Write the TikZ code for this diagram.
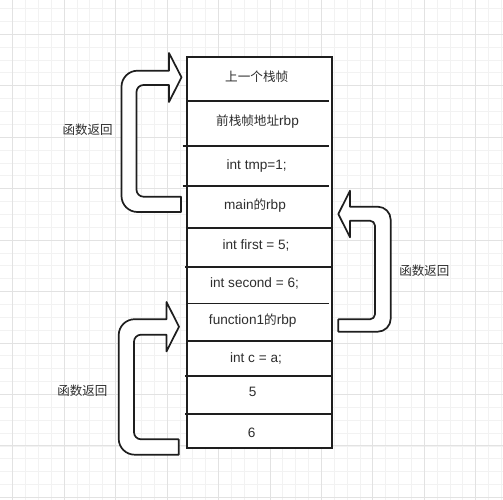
\documentclass[tikz,border=0pt]{standalone}
\usepackage{fontspec}
\setmainfont{Liberation Sans}
\newfontfamily\cjkfont{Noto Sans CJK SC}
\newcommand{\zh}[1]{{\cjkfont\fontsize{12.6}{15}\selectfont #1}}
\definecolor{minorgrid}{HTML}{F2F2F2}
\definecolor{majorgrid}{HTML}{E2E2E2}
\definecolor{txt}{HTML}{2E2E2E}
\definecolor{ink}{HTML}{1E1E1E}
\begin{document}
\begin{tikzpicture}[x=1pt,y=-1pt,
  minorline/.style={draw=minorgrid,line width=0.8pt},
  majorline/.style={draw=majorgrid,line width=0.9pt},
  stackbox/.style={draw=ink,fill=white,line width=1.7pt,inner sep=0pt,minimum width=145pt,minimum height=391.3pt},
  sepline/.style={draw=ink,line width=1.7pt},
  celltext/.style={text=txt,font=\fontsize{13.6}{15}\selectfont,inner sep=0pt},
  uarrow/.style={draw=ink,fill=white,line width=1.7pt,line join=round},
  backlabel/.style={text=txt,font=\fontsize{12.5}{15}\selectfont\cjkfont,inner sep=0pt}]
\fill[white] (0,0) rectangle (503,500);
\useasboundingbox (0,0) rectangle (503,500);
\begin{scope}
\clip (0,0) rectangle (503,500);
\foreach \i in {0,...,38} {\draw[minorline] ({12.7+\i*12.8625},0) -- ({12.7+\i*12.8625},500);}
\foreach \i in {-2,...,36} {\draw[minorline] (0,{34.3+\i*12.8625}) -- (503,{34.3+\i*12.8625});}
\foreach \j in {0,...,9} {\draw[majorline] ({12.7+\j*51.45},0) -- ({12.7+\j*51.45},500);}
\foreach \j in {0,...,9} {\draw[majorline] (0,{34.3+\j*51.45}) -- (503,{34.3+\j*51.45});}
\end{scope}

% stack frame
\node[stackbox] (stack) at (259.2,252.35) {};
\draw[sepline] (186.7,101) -- (329.3,101);
\draw[sepline] (182.7,145.7) -- (329.3,145.7);
\draw[sepline] (182.7,186) -- (329.3,186);
\draw[sepline] (186.7,228) -- (331.7,228);
\draw[sepline] (185,266.7) -- (331.7,266.7);
\draw[sepline] (186.7,303.5) -- (329.3,303.5);
\draw[sepline] (186.7,341) -- (331.7,341);
\draw[sepline] (185,375.7) -- (331.7,375.7);
\draw[sepline] (185,414) -- (331.7,414);

\node[celltext] (c1) at (256.7,77) {\zh{上一个栈帧}};
\node[celltext] (c2) at (257.5,122) {\zh{前栈帧地址}rbp};
\node[celltext] (c3) at (256.7,166) {int tmp=1;};
\node[celltext] (c4) at (255,206) {main\zh{的}rbp};
\node[celltext] (c5) at (256,245) {int first = 5;};
\node[celltext] (c6) at (254.5,283) {int second = 6;};
\node[celltext] (c7) at (252.7,321) {function1\zh{的}rbp};
\node[celltext] (c8) at (256,358) {int c = a;};
\node[celltext] (c9) at (252.7,392.3) {5};
\node[celltext] (c10) at (251.7,432.7) {6};

% top-left U-turn arrow
\draw[uarrow] (181,196.7) -- (181,212) -- (137.5,212) arc[start angle=90,end angle=180,radius=16]
  -- (121.5,86.7) arc[start angle=180,end angle=270,radius=16]
  -- (169,70.7) -- (169,53) -- (181.5,77.3) -- (169,102) -- (169,85)
  -- (143.5,85) arc[start angle=270,end angle=180,radius=7]
  -- (136.5,189.7) arc[start angle=180,end angle=90,radius=7] -- cycle;

% bottom-left U-turn arrow
\draw[uarrow] (178.7,439.3) -- (178.7,454.7) -- (134.7,454.7) arc[start angle=90,end angle=180,radius=16]
  -- (118.7,335.2) arc[start angle=180,end angle=270,radius=16]
  -- (166.5,319.2) -- (166.5,302) -- (179,326.7) -- (166.5,351.4) -- (166.5,334.7)
  -- (141,334.7) arc[start angle=270,end angle=180,radius=7]
  -- (134,432.3) arc[start angle=180,end angle=90,radius=7] -- cycle;

% right U-turn arrow
\draw[uarrow] (338.3,319.3) -- (338.3,331.7) -- (377.7,331.7) arc[start angle=90,end angle=0,radius=13]
  -- (390.7,219.7) arc[start angle=0,end angle=-90,radius=13]
  -- (350,206.7) -- (350,190.7) -- (338.3,214) -- (350,237.3) -- (350,220.7)
  -- (370,220.7) arc[start angle=-90,end angle=0,radius=5]
  -- (375,314.3) arc[start angle=0,end angle=90,radius=5] -- cycle;

\node[backlabel] (ret1) at (87.5,130) {函数返回};
\node[backlabel] (ret2) at (82.3,391) {函数返回};
\node[backlabel] (ret3) at (424.3,271) {函数返回};
\end{tikzpicture}
\end{document}
